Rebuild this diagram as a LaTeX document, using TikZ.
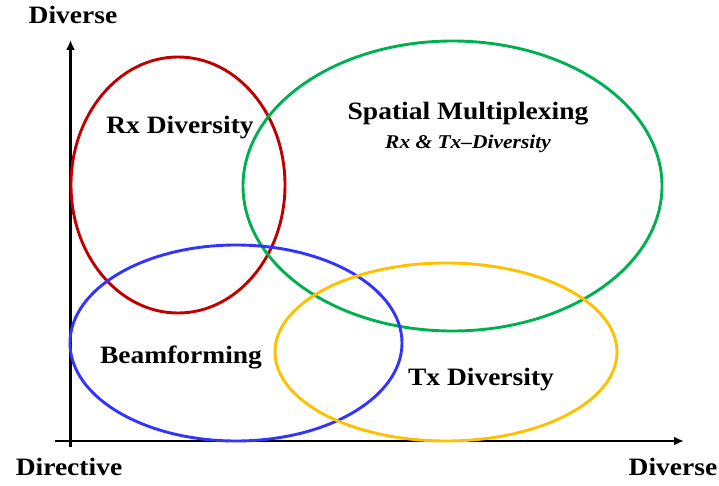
\documentclass[tikz,border=0pt]{standalone}
\usepackage{fontspec}
\setmainfont[FakeStretch=1.1]{Liberation Serif}
\usetikzlibrary{arrows.meta}
\definecolor{cred}{HTML}{C00000}
\definecolor{cgreen}{HTML}{00B050}
\definecolor{cblue}{HTML}{3333FF}
\definecolor{cyellow}{HTML}{FFC000}
\tikzset{
  axis/.style={line width=2.2pt,-{Latex[length=10pt,width=9pt]}},
  ring/.style={line width=2.9pt},
  lbl/.style={font=\bfseries\fontsize{25}{29}\selectfont, inner sep=0pt},
  sublbl/.style={font=\bfseries\itshape\fontsize{19.5}{23}\selectfont, inner sep=0pt},
}
\begin{document}
\begin{tikzpicture}[x=1pt,y=-1pt]
\useasboundingbox (0,0) rectangle (719,486);
% axes
\coordinate (o) at (70.5,441);
\coordinate (xs) at (55,441);
\coordinate (xe) at (684,441);
\coordinate (ys) at (70.5,447);
\coordinate (ye) at (70.5,40);
\draw[axis] (xs) -- (xe);
\draw[axis] (ys) -- (ye);
% ellipses
\draw[ring,cred] (178,185) ellipse [x radius=107, y radius=128];
\draw[ring,cgreen] (452.5,186) ellipse [x radius=209.5, y radius=145];
\draw[ring,cblue] (236,343) ellipse [x radius=166, y radius=98];
\draw[ring,cyellow] (446,352) ellipse [x radius=171, y radius=89];
% labels
\node[lbl] (rx) at (180,128) {Rx Diversity};
\node[lbl] (sm) at (468,114) {Spatial Multiplexing};
\node[sublbl] (smsub) at (468,144) {Rx \& Tx–Diversity};
\node[lbl] (bf) at (181,357) {Beamforming};
\node[lbl] (tx) at (481,380) {Tx Diversity};
\node[lbl] (dirx) at (69,467) {Directive};
\node[lbl] (divx) at (673,467) {Diverse};
\node[lbl] (divy) at (73,15) {Diverse};
\end{tikzpicture}
\end{document}
